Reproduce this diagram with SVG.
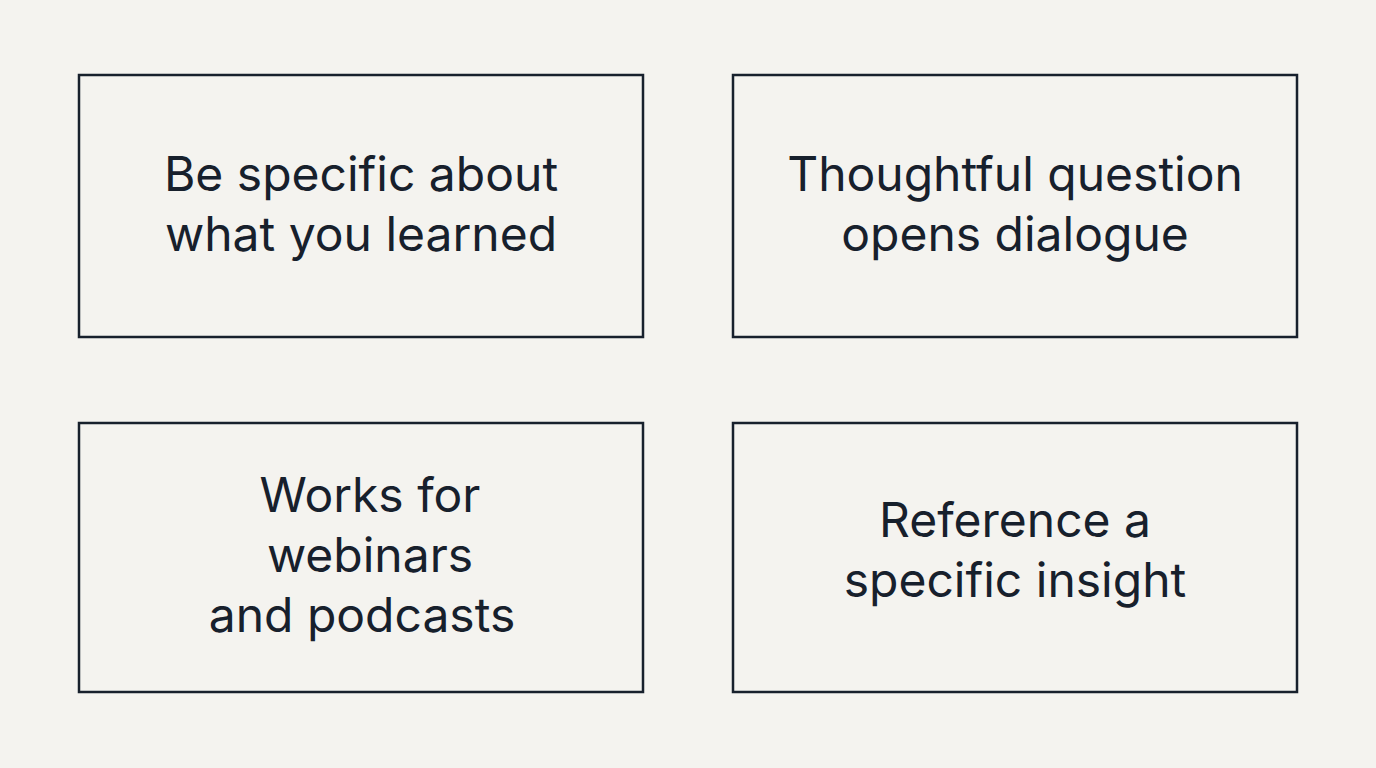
<svg xmlns="http://www.w3.org/2000/svg" width="1376" height="768" viewBox="0 0 1376 768">
<style>
.box{fill:none;stroke:#17202c;stroke-width:2.5}
.t{font-family:Inter,"Liberation Sans",sans-serif;font-size:48px;fill:#17202c;text-anchor:middle}
</style>
<rect width="1376" height="768" fill="#f4f3ef"/>
<g id="connectors"/>
<g id="n1"><rect class="box" x="79" y="75" width="564" height="262"/><text class="t" x="361" y="191">Be specific about</text><text class="t" x="361" y="251">what you learned</text></g>
<g id="n2"><rect class="box" x="733" y="75" width="564" height="262"/><text class="t" x="1015" y="191">Thoughtful question</text><text class="t" x="1015" y="251">opens dialogue</text></g>
<g id="n3"><rect class="box" x="79" y="423" width="564" height="269"/><text class="t" x="370" y="512">Works for</text><text class="t" x="370" y="572">webinars</text><text class="t" x="362" y="632">and podcasts</text></g>
<g id="n4"><rect class="box" x="733" y="423" width="564" height="269"/><text class="t" x="1015" y="537">Reference a</text><text class="t" x="1015" y="597">specific insight</text></g>
</svg>
